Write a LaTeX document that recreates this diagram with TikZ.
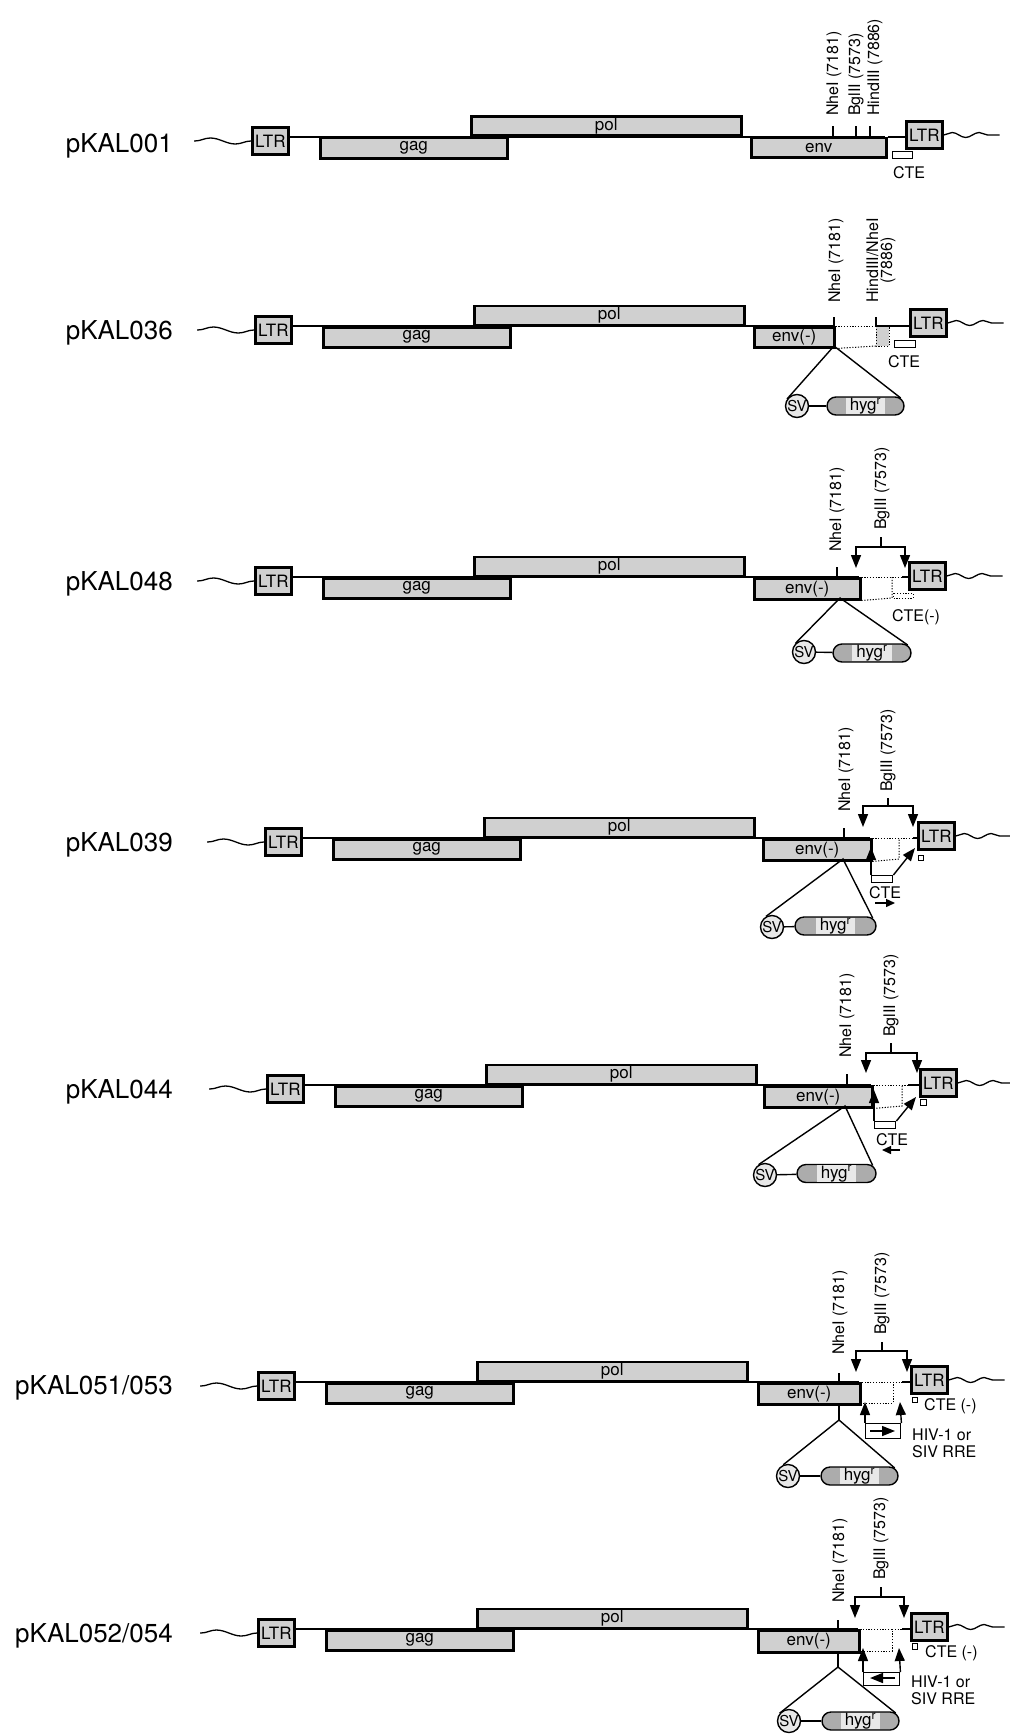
\documentclass[tikz,border=0pt]{standalone}
\usepackage{fontspec}
\setmainfont{TeX Gyre Heros}
\usetikzlibrary{arrows.meta,shapes.misc,calc,decorations.pathmorphing}
\definecolor{stip}{RGB}{208,208,208}
\definecolor{stipdk}{RGB}{172,172,172}
\definecolor{stiplt}{RGB}{232,232,232}
\newcommand\fsA{\fontsize{16pt}{16pt}\selectfont}
\newcommand\fsE{\fontsize{17pt}{17pt}\selectfont}
\newcommand\fsB{\fontsize{26pt}{30pt}\selectfont}
\newcommand\fsS{\fontsize{15pt}{15pt}\selectfont}
\newcommand\fsC{\fontsize{16pt}{14pt}\selectfont}
\newcommand\fsD{\fontsize{16pt}{17pt}\selectfont}
\begin{document}
\begin{tikzpicture}[x=1pt,y=-1pt,
  genebox/.style={draw, line width=2.5pt, fill=stip, inner sep=0pt, font=\fsE, minimum height=20pt},
  ltrbox/.style={draw, line width=2.7pt, fill=stip, inner sep=0pt, font=\fsE, minimum width=36pt, minimum height=27pt},
  mainline/.style={line width=2.5pt},
  thinline/.style={line width=1.4pt},
  dotline/.style={line width=1pt, dash pattern=on 1.2pt off 1.6pt},
  tickmark/.style={line width=1.4pt},
  wavel/.style={line width=1.3pt},
  lwave/.style={wavel, decorate, decoration={snake, segment length=50pt, amplitude=3pt}},
  rwave/.style={wavel, decorate, decoration={snake, segment length=27pt, amplitude=2.5pt}},
  sitelab/.style={rotate=90, anchor=west, font=\fsA, inner sep=0pt},
  plab/.style={font=\fsB, anchor=base east, inner sep=0pt},
  svnode/.style={circle, draw, line width=1.4pt, fill=stiplt, minimum size=23pt, inner sep=0pt, font=\fsS},
  pill/.style={rounded rectangle, draw, line width=1.4pt, fill=stipdk, minimum height=18pt, inner sep=0pt},
  hygtxt/.style={fill=stiplt, inner xsep=4pt, inner ysep=0pt, minimum height=15pt, font=\fsE},
  arr/.style={-{Triangle[width=10pt,length=13pt]}, line width=1.4pt},
  arrs/.style={-{Triangle[width=8pt,length=9pt]}, line width=1.4pt},
  ctebox/.style={draw, line width=1.4pt, fill=white, inner sep=0pt},
  txt/.style={font=\fsA, inner sep=0pt}
]
\useasboundingbox (0,0) rectangle (1009,1734);

% ---------- common left part of each construct ----------
\foreach \n/\y/\s/\e in {1/137/251/885, 2/326/254/833, 3/577/254/859, 4/838/264/870, 5/1085/266/871, 6/1382/257/859, 7/1629/257/858}{
  \draw[mainline] (\s+36,\y) -- (\e,\y);
  \node[ltrbox, anchor=west] (ltrL\n) at (\s,\y+4) {LTR};
  \node[genebox, anchor=north west, minimum width=187pt] (gag\n) at (\s+68,\y) {gag};
  \node[genebox, anchor=south west, minimum width=270pt, minimum height=19pt] (pol\n) at (\s+219,\y) {pol};
  \draw[lwave] (ltrL\n.west) -- ++(-57,0);
}

% plasmid names
\node[plab] (p1) at (173,152) {pKAL001};
\node[plab] (p2) at (173,339) {pKAL036};
\node[plab] (p3) at (173,590) {pKAL048};
\node[plab] (p4) at (173,851) {pKAL039};
\node[plab] (p5) at (173,1098) {pKAL044};
\node[plab] (p6) at (173,1394) {pKAL051/053};
\node[plab] (p7) at (173,1642) {pKAL052/054};

% ---------- row 1 : pKAL001 ----------
\node[genebox, anchor=north west, minimum width=135pt, minimum height=19pt] (env1) at (750,137) {env};
\node[ltrbox, anchor=west] (ltrR1) at (905,135) {LTR};
\draw[thinline] (env1.north east) -- (ltrR1.west |- env1.north east);
\draw[rwave] (ltrR1.east) -- ++(56,0);
\draw[tickmark] (833,137) -- (833,126);
\draw[tickmark] (856,137) -- (856,126);
\draw[tickmark] (870,137) -- (870,126);
\node[sitelab] (ne1) at (834,116) {NheI (7181)};
\node[sitelab] (bg1) at (856,116) {BglII (7573)};
\node[sitelab] (hd1) at (875,116) {HindIII (7886)};
\node[ctebox, minimum width=20pt, minimum height=7pt, anchor=north west] (cte1) at (892,151) {};
\node[txt] (ctet1) at (909,173) {CTE};

% ---------- row 2 : pKAL036 ----------
\node[genebox, anchor=north west, minimum width=80pt] (env2) at (753,326) {env(-)};
\draw[dotline] (env2.north east) -- (876,326);
\draw[dotline] (env2.south east) -- (876,346);
\draw[dotline, fill=stip] (876,326) rectangle (889,346);
\node[ltrbox, anchor=west] (ltrR2) at (909,323) {LTR};
\draw[thinline] (876,326) -- (ltrR2.west |- env2.north);
\draw[rwave] (ltrR2.east) -- ++(56,0);
\draw[tickmark] (834,326) -- (834,317);
\draw[tickmark] (876,326) -- (876,317);
\node[sitelab] (ne2) at (836,303) {NheI (7181)};
\node[sitelab, align=center, font=\fsC] (hd2) at (881,303) {HindIII/NheI\\(7886)};
\node[ctebox, minimum width=21pt, minimum height=7pt, anchor=north west] (cte2) at (894,340) {};
\node[txt] (ctet2) at (904,362) {CTE};
\node[svnode] (sv2) at (797,406) {SV};
\node[pill, minimum width=77pt] (hy2) at (865.5,406) {};
\node[hygtxt] (hyt2) at (hy2) {hyg\textsuperscript{r}};
\draw[thinline] (sv2) -- (hy2);
\coordinate (in2) at (834,346);
\draw[thinline] (sv2.145) -- (in2) -- ($(hy2.east)+(-4,-8)$);

% ---------- row 3 : pKAL048 ----------
\node[genebox, anchor=north west, minimum width=106pt, minimum height=21pt] (env3) at (753,577) {env(-)};
\draw[dotline] (env3.north east) -- (902,577);
\draw[dotline] (env3.south east) -- (892,598) -- (892,577);
\node[ltrbox, anchor=west] (ltrR3) at (908,576) {LTR};
\draw[thinline] (902,577) -- (ltrR3.west |- env3.north);
\draw[rwave] (ltrR3.east) -- ++(56,0);
\draw[dotline] (893,593) rectangle (913,598);
\draw[tickmark] (837,577) -- (837,567);
\node[sitelab] (ne3) at (837,552) {NheI (7181)};
\coordinate (br3) at (881,547);
\draw[thinline] (br3) -- (881,537);
\draw[arr] (br3) -| (856,568);
\draw[arr] (br3) -| (905,568);
\node[sitelab] (bg3) at (882,530) {BglII (7573)};
\node[txt] (ctet3) at (916,617) {CTE(-)};
\node[svnode] (sv3) at (804,652) {SV};
\node[pill, minimum width=78pt] (hy3) at (872,653) {};
\node[hygtxt] (hyt3) at (hy3) {hyg\textsuperscript{r}};
\draw[thinline] (sv3) -- (hy3);
\coordinate (in3) at (840,598);
\draw[thinline] (sv3.135) -- (in3) -- ($(hy3.east)+(-4,-8)$);

% ---------- row 4 : pKAL039 ----------
\node[genebox, anchor=north west, minimum width=108pt, minimum height=21pt] (env4) at (762,838) {env(-)};
\draw[dotline] (env4.north east) -- (913,838);
\draw[dotline] (env4.south east) -- (899,859) -- (899,838);
\node[ltrbox, anchor=west] (ltrR4) at (917,836) {LTR};
\draw[thinline] (913,838) -- (ltrR4.west |- env4.north);
\draw[rwave] (ltrR4.east) -- ++(56,0);
\node[ctebox, minimum width=5pt, minimum height=5pt, anchor=north west] (sq4) at (918,855) {};
\draw[tickmark] (844,838) -- (844,828);
\node[sitelab] (ne4) at (846,812) {NheI (7181)};
\coordinate (br4) at (888,806);
\draw[thinline] (br4) -- (888,798);
\draw[arr] (br4) -| (863,827);
\draw[arr] (br4) -| (913,827);
\node[sitelab] (bg4) at (888,792) {BglII (7573)};
\node[ctebox, minimum width=21pt, minimum height=7pt, anchor=north west] (cte4) at (871,875) {};
\draw[arr] (cte4.north west) -- (871,847);
\draw[arr] (cte4.north east) -- (915,848);
\node[txt] (ctet4) at (885,893) {CTE};
\draw[arrs] (875,903) -- (895,903);
\node[svnode] (sv4) at (772,927) {SV};
\node[pill, minimum width=81pt] (hy4) at (835.5,926) {};
\node[hygtxt] (hyt4) at (hy4) {hyg\textsuperscript{r}};
\draw[thinline] (sv4) -- (hy4);
\coordinate (in4) at (843,859);
\draw[thinline] (sv4.120) -- (in4) -- ($(hy4.east)+(-4,-8)$);

% ---------- row 5 : pKAL044 ----------
\node[genebox, anchor=north west, minimum width=108pt, minimum height=21pt] (env5) at (763,1085) {env(-)};
\draw[dotline] (env5.north east) -- (908,1085);
\draw[dotline] (env5.south east) -- (902,1106) -- (902,1085);
\node[ltrbox, anchor=west] (ltrR5) at (919,1083) {LTR};
\draw[thinline] (908,1085) -- (ltrR5.west |- env5.north);
\draw[rwave] (ltrR5.east) -- ++(54,0);
\node[ctebox, minimum width=6pt, minimum height=6pt, anchor=north west] (sq5) at (920,1099) {};
\draw[tickmark] (847,1085) -- (847,1074);
\node[sitelab] (ne5) at (847,1058) {NheI (7181)};
\coordinate (br5) at (891,1053);
\draw[thinline] (br5) -- (891,1043);
\draw[arr] (br5) -| (866,1073);
\draw[arr] (br5) -| (917,1073);
\node[sitelab] (bg5) at (891,1037) {BglII (7573)};
\node[ctebox, minimum width=21pt, minimum height=7pt, anchor=north west] (cte5) at (874,1121) {};
\draw[arr] (cte5.north west) -- (874,1090);
\draw[arr] (cte5.north east) -- (916,1097);
\node[txt] (ctet5) at (892,1140) {CTE};
\draw[arrs] (900,1150) -- (882,1150);
\node[svnode] (sv5) at (765,1175) {SV};
\node[pill, minimum width=79pt] (hy5) at (836.5,1173.5) {};
\node[hygtxt] (hyt5) at (hy5) {hyg\textsuperscript{r}};
\draw[thinline] (sv5) -- (hy5);
\coordinate (in5) at (845,1106);
\draw[thinline] (sv5.122) -- (in5) -- ($(hy5.east)+(-4,-8)$);

% ---------- row 6 : pKAL051/053 ----------
\node[genebox, anchor=north west, minimum width=102pt, minimum height=21pt] (env6) at (757,1382) {env(-)};
\draw[dotline] (env6.north east) rectangle (893,1403);
\draw[dotline] (893,1382) -- (902,1382);
\node[ltrbox, anchor=west] (ltrR6) at (910,1380) {LTR};
\draw[thinline] (902,1382) -- (ltrR6.west |- env6.north);
\draw[rwave] (ltrR6.east) -- ++(56,0);
\node[ctebox, minimum width=5pt, minimum height=5pt, anchor=north west] (sq6) at (912,1397) {};
\node[txt, anchor=west] (ctet6) at (924,1406) {CTE (-)};
\draw[tickmark] (839,1382) -- (839,1373);
\node[sitelab] (ne6) at (840,1355) {NheI (7181)};
\coordinate (br6) at (882,1351);
\draw[thinline] (br6) -- (882,1342);
\draw[arr] (br6) -| (856,1372);
\draw[arr] (br6) -| (907,1372);
\node[sitelab] (bg6) at (882,1335) {BglII (7573)};
\node[ctebox, minimum width=35pt, minimum height=15pt, anchor=north west] (rre6) at (865,1423) {};
\draw[arr] (rre6.north west) -- (865,1402);
\draw[arr] (rre6.north east) -- (900,1402);
\draw[arr] (870,1431) -- (895,1431);
\node[txt, align=left, anchor=west, font=\fsD] (hiv6) at (912,1443) {HIV-1 or\\SIV RRE};
\node[svnode] (sv6) at (788,1476) {SV};
\node[pill, minimum width=77pt] (hy6) at (859.5,1476) {};
\node[hygtxt] (hyt6) at (hy6) {hyg\textsuperscript{r}};
\draw[thinline] (sv6) -- (hy6);
\coordinate (in6) at (839,1403);
\coordinate (ap6) at (839,1420);
\draw[thinline] (in6) -- (ap6);
\draw[thinline] (sv6.113) -- (ap6) -- ($(hy6.east)+(-4,-8)$);

% ---------- row 7 : pKAL052/054 ----------
\node[genebox, anchor=north west, minimum width=101pt, minimum height=22pt] (env7) at (757,1629) {env(-)};
\draw[dotline] (env7.north east) rectangle (892,1651);
\draw[dotline] (892,1629) -- (902,1629);
\node[ltrbox, anchor=west] (ltrR7) at (910,1627) {LTR};
\draw[thinline] (902,1629) -- (ltrR7.west |- env7.north);
\draw[rwave] (ltrR7.east) -- ++(56,0);
\node[ctebox, minimum width=5pt, minimum height=6pt, anchor=north west] (sq7) at (912,1643) {};
\node[txt, anchor=west] (ctet7) at (925,1653) {CTE (-)};
\draw[tickmark] (838,1629) -- (838,1620);
\node[sitelab] (ne7) at (840,1603) {NheI (7181)};
\coordinate (br7) at (881,1597);
\draw[thinline] (br7) -- (881,1587);
\draw[arr] (br7) -| (855,1618);
\draw[arr] (br7) -| (904,1618);
\node[sitelab] (bg7) at (881,1580) {BglII (7573)};
\node[ctebox, minimum width=36pt, minimum height=13pt, anchor=north west] (rre7) at (863,1672) {};
\draw[arr] (rre7.north west) -- (863,1648);
\draw[arr] (rre7.north east) -- (899,1648);
\draw[arr] (895,1678) -- (870,1678);
\node[txt, align=left, anchor=west, font=\fsD] (hiv7) at (911,1690) {HIV-1 or\\SIV RRE};
\node[svnode] (sv7) at (789,1721) {SV};
\node[pill, minimum width=77pt] (hy7) at (860.5,1721) {};
\node[hygtxt] (hyt7) at (hy7) {hyg\textsuperscript{r}};
\draw[thinline] (sv7) -- (hy7);
\coordinate (in7) at (838,1651);
\coordinate (ap7) at (838,1667);
\draw[thinline] (in7) -- (ap7);
\draw[thinline] (sv7.140) -- (ap7) -- ($(hy7.east)+(-4,-8)$);
\end{tikzpicture}
\end{document}
